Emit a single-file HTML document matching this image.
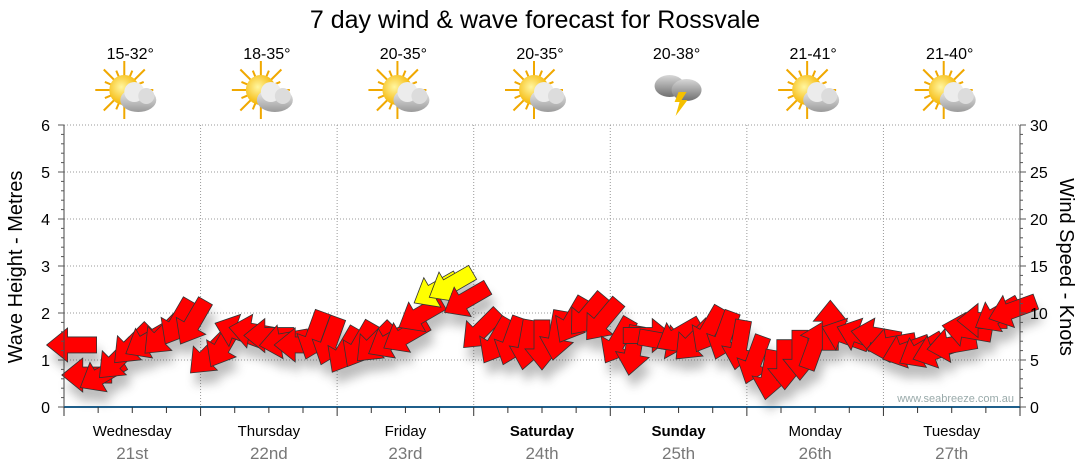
<!DOCTYPE html>
<html><head><meta charset="utf-8"><style>
body{margin:0;background:#fff;font-family:"Liberation Sans","DejaVu Sans",sans-serif}
svg{display:block}
</style></head><body>
<svg id="chart" width="1080" height="475" viewBox="0 0 1080 475" xmlns="http://www.w3.org/2000/svg">
<defs>
<filter id="sh" x="-50%" y="-50%" width="200%" height="200%"><feGaussianBlur stdDeviation="5"/></filter>
<radialGradient id="sun" cx="0.4" cy="0.4" r="0.6"><stop offset="0" stop-color="#fff6a0"/><stop offset="1" stop-color="#f5b400"/></radialGradient>
<linearGradient id="cloud" x1="0" y1="0" x2="0" y2="1"><stop offset="0" stop-color="#f2f2f2"/><stop offset="1" stop-color="#9a9a9a"/></linearGradient>
<linearGradient id="dcloud" x1="0" y1="0" x2="0" y2="1"><stop offset="0" stop-color="#d8d8d8"/><stop offset="1" stop-color="#707070"/></linearGradient>
</defs>
<text x="535" y="28" font-size="25" text-anchor="middle" fill="#000">7 day wind &amp; wave forecast for Rossvale</text>
<g id="header"></g>
<g id="grid"></g>
<g id="shadows" filter="url(#sh)" opacity="0.35"></g>
<g id="arrows"></g>
<g id="axes"></g>
<text transform="translate(22,267) rotate(-90)" font-size="20" text-anchor="middle">Wave Height - Metres</text>
<text transform="translate(1060,267) rotate(90)" font-size="20" text-anchor="middle">Wind Speed - Knots</text>
<text x="1014" y="402" font-size="11" fill="#9aa" text-anchor="end">www.seabreeze.com.au</text>
</svg>
<script>
const days=["Wednesday","Thursday","Friday","Saturday","Sunday","Monday","Tuesday"];
const dates=["21st","22nd","23rd","24th","25th","26th","27th"];
const temps=["15-32°","18-35°","20-35°","20-35°","20-38°","21-41°","21-40°"];
const icons=["sun-cloud","sun-cloud","sun-cloud","sun-cloud","storm","sun-cloud","sun-cloud"];
const waveTicks=[0,1,2,3,4,5,6];
const windTicks=[0,5,10,15,20,25,30];
const windSpeed=[6.6,3.4,3.4,5,6.6,7,7.6,9,9,
5.5,6.6,8,8,7.6,7,6.6,7.6,7,
6,6.6,6.8,7,7.6,9.8,12.4,13,11.4,
8.2,7,7,6.6,6.6,7.6,9.2,9.8,9.2,
7,6,7.6,7,7.6,7,8.2,7.6,6.6,
5,3.4,4.5,5.5,6.6,8.7,7.6,7.6,7.6,
6.6,6,6,6,6.6,8.2,9.2,9.8,10.3];
const windDir=[90,90,60,45,45,60,45,30,30,
45,30,110,100,90,80,90,20,20,
30,30,45,60,60,60,60,60,60,
45,30,20,10,0,10,30,40,40,
30,10,270,280,60,45,30,20,10,
20,10,0,0,200,180,110,110,100,
80,70,60,70,80,100,90,60,70];
const NS="http://www.w3.org/2000/svg";
const X0=64,X1=1020,Y0=407,Y1=125;
const dayW=(X1-X0)/7;
const yWave=v=>Y0-(v/6)*(Y0-Y1);
const yWind=v=>Y0-(v/30)*(Y0-Y1);
const xIdx=i=>X0+(i+0.5)*(X1-X0)/windSpeed.length;
function mk(tag,attrs,parent){const e=document.createElementNS(NS,tag);for(const k in attrs)e.setAttribute(k,attrs[k]);parent.appendChild(e);return e;}
const grid=document.getElementById('grid'),axes=document.getElementById('axes'),hdr=document.getElementById('header');
waveTicks.forEach(v=>{if(v>0){const l=mk('line',{x1:X0,x2:X1,y1:yWave(v),y2:yWave(v),stroke:'#999','stroke-dasharray':'1,2'},grid);

}});
for(let d=1;d<7;d++){const l=mk('line',{x1:X0+d*dayW,x2:X0+d*dayW,y1:Y1,y2:Y0,stroke:'#999','stroke-dasharray':'1,2'},grid);

}
mk('line',{x1:X0,x2:X0,y1:Y1,y2:Y0,stroke:'#444'},axes);
mk('line',{x1:X1,x2:X1,y1:Y1,y2:Y0,stroke:'#444'},axes);
const base=mk('line',{x1:X0,x2:X1,y1:Y0,y2:Y0,stroke:'#1f5f8b','stroke-width':2},axes);


for(let m=0;m<=30;m++){const y=Y0-m*(Y0-Y1)/30;mk('line',{x1:X0-(m%5?3:6),x2:X0,y1:y,y2:y,stroke:'#555'},axes);mk('line',{x1:X1,x2:X1+(m%5?3:6),y1:y,y2:y,stroke:'#555'},axes);}
waveTicks.forEach(v=>{const t=mk('text',{x:X0-14,y:yWave(v)+6,'font-size':16,'text-anchor':'end'},axes);t.textContent=v;

});
windTicks.forEach(v=>{const t=mk('text',{x:X1+10,y:yWind(v)+6,'font-size':16},axes);t.textContent=v;

});
for(let q=0;q<=28;q++){const x=X0+q*dayW/4;mk('line',{x1:x,x2:x,y1:Y0,y2:Y0+(q%4?6:9),stroke:'#333'},axes);}
days.forEach((d,i)=>{const cx=X0+(i+0.5)*dayW;
const t=mk('text',{x:cx,y:436,'font-size':15,'text-anchor':'middle','font-weight':(i==3||i==4)?'bold':'normal'},axes);t.textContent=d;


const t2=mk('text',{x:cx,y:459,'font-size':17,'text-anchor':'middle',fill:'#777'},axes);t2.textContent=dates[i];


const t3=mk('text',{x:cx-2,y:59,'font-size':16,'text-anchor':'middle'},hdr);t3.textContent=temps[i];


const g=mk('g',{transform:`translate(${cx-2},96)`},hdr);


if(icons[i]=='storm'){
 mk('ellipse',{cx:-7,cy:-10,rx:15,ry:11,fill:'url(#dcloud)'},g);
 mk('ellipse',{cx:10,cy:-6,rx:15,ry:11,fill:'url(#dcloud)'},g);
 mk('polygon',{points:'2,-4 10,-4 5,4 11,4 -1,20 3,6 -2,6',fill:'#f5c000'},g);
}else{
 for(let r=0;r<16;r++){const a=r*Math.PI/8,L=r%2?21:29;mk('line',{x1:-6+Math.cos(a)*12,y1:-6+Math.sin(a)*12,x2:-6+Math.cos(a)*L,y2:-6+Math.sin(a)*L,stroke:'#f0a800','stroke-width':2},g);}
 mk('circle',{cx:-6,cy:-6,r:15,fill:'url(#sun)'},g);
 mk('ellipse',{cx:8,cy:4,rx:18,ry:12,fill:'url(#cloud)'},g);
 mk('circle',{cx:4,cy:-4,r:10,fill:'#ececec'},g);
 mk('circle',{cx:16,cy:0,r:8,fill:'#dcdcdc'},g);
}});
const ar=document.getElementById('arrows'),sh=document.getElementById('shadows');
const shape='M-25,-8 L4,-8 L4,-17 L25,0 L4,17 L4,8 L-25,8 Z';
windSpeed.forEach((v,i)=>{const x=xIdx(i),y=yWind(v);const rot=windDir[i]+90;
mk('path',{d:shape,fill:'#444',transform:`translate(${x+4},${y+12}) rotate(${rot})`},sh);
const p=mk('path',{d:shape,fill:v>=12?'#ffff00':'#ff0000',stroke:'#333','stroke-width':0.8,transform:`translate(${x},${y}) rotate(${rot})`},ar);

});
</script>
</body></html>
